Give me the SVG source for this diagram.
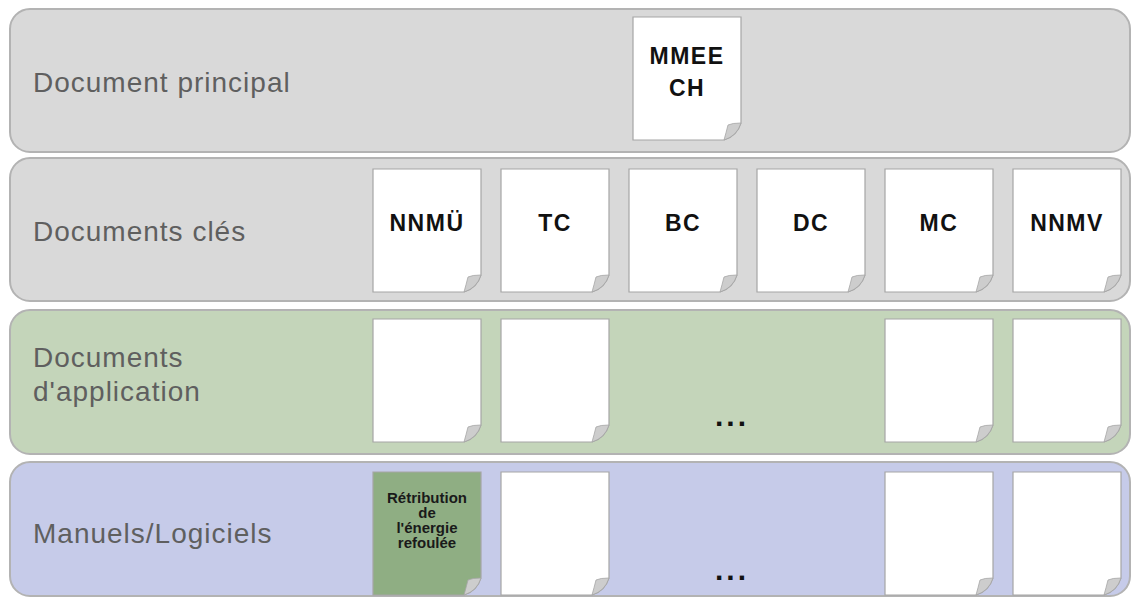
<svg xmlns="http://www.w3.org/2000/svg" width="1132" height="598" viewBox="0 0 1132 598">
<style>
.band{stroke:#b3b3b3;stroke-width:2}
.lbl{font-family:"Liberation Sans",Arial,sans-serif;font-size:28px;fill:#5f5f5f;letter-spacing:1px}
.pg{stroke:#a6a6a6;stroke-width:1.2}
.fold{fill:#cdcdcd;stroke:#a6a6a6;stroke-width:0.8}
.dl{font-family:"Liberation Sans",Arial,sans-serif;font-size:23px;font-weight:bold;fill:#111;text-anchor:middle;letter-spacing:1.5px}
.sm{font-family:"Liberation Sans",Arial,sans-serif;font-size:15px;font-weight:bold;fill:#1a1a1a;text-anchor:middle}
.dots{font-family:"Liberation Sans",Arial,sans-serif;font-size:30px;font-weight:bold;fill:#111;text-anchor:middle;letter-spacing:3px}
</style>
<defs>
<path id="page" d="M0 0 H108 V106 Q104 119 91 123 H0 Z"/>
<path id="fold" d="M108 106 Q99 106 95 108 Q93 116 91 123 Q104 119 108 106 Z"/>
</defs>
<rect width="1132" height="598" fill="#ffffff"/>
<g id="band1">
<rect class="band" x="10" y="9" width="1120" height="143" rx="20" fill="#d9d9d9"/>
<text class="lbl" x="33" y="92">Document principal</text>
</g>
<g id="band2">
<rect class="band" x="10" y="158" width="1120" height="143" rx="20" fill="#d9d9d9"/>
<text class="lbl" x="33" y="241">Documents clés</text>
</g>
<g id="band3">
<rect class="band" x="10" y="310" width="1120" height="144" rx="20" fill="#c4d5ba"/>
<text class="lbl" x="33" y="367">Documents</text>
<text class="lbl" x="33" y="401">d'application</text>
<text class="dots" x="732" y="426">...</text>
</g>
<g id="band4">
<rect class="band" x="10" y="462" width="1120" height="134" rx="20" fill="#c6cbe9"/>
<text class="lbl" x="33" y="543">Manuels/Logiciels</text>
<text class="dots" x="732" y="580">...</text>
</g>
<g id="doc-mmeech" transform="translate(633,17)">
<use href="#page" class="pg" fill="#fff"/><use href="#fold" class="fold"/>
<text class="dl" x="54" y="47">MMEE</text><text class="dl" x="54" y="79">CH</text>
</g>
<g id="doc-nnmu" transform="translate(373,169)"><use href="#page" class="pg" fill="#fff"/><use href="#fold" class="fold"/><text class="dl" x="54" y="62">NNMÜ</text></g>
<g id="doc-tc" transform="translate(501,169)"><use href="#page" class="pg" fill="#fff"/><use href="#fold" class="fold"/><text class="dl" x="54" y="62">TC</text></g>
<g id="doc-bc" transform="translate(629,169)"><use href="#page" class="pg" fill="#fff"/><use href="#fold" class="fold"/><text class="dl" x="54" y="62">BC</text></g>
<g id="doc-dc" transform="translate(757,169)"><use href="#page" class="pg" fill="#fff"/><use href="#fold" class="fold"/><text class="dl" x="54" y="62">DC</text></g>
<g id="doc-mc" transform="translate(885,169)"><use href="#page" class="pg" fill="#fff"/><use href="#fold" class="fold"/><text class="dl" x="54" y="62">MC</text></g>
<g id="doc-nnmv" transform="translate(1013,169)"><use href="#page" class="pg" fill="#fff"/><use href="#fold" class="fold"/><text class="dl" x="54" y="62">NNMV</text></g>
<g id="doc-app1" transform="translate(373,319)"><use href="#page" class="pg" fill="#fff"/><use href="#fold" class="fold"/></g>
<g id="doc-app2" transform="translate(501,319)"><use href="#page" class="pg" fill="#fff"/><use href="#fold" class="fold"/></g>
<g id="doc-app3" transform="translate(885,319)"><use href="#page" class="pg" fill="#fff"/><use href="#fold" class="fold"/></g>
<g id="doc-app4" transform="translate(1013,319)"><use href="#page" class="pg" fill="#fff"/><use href="#fold" class="fold"/></g>
<g id="doc-retribution" transform="translate(373,472)">
<use href="#page" class="pg" fill="#8fae83"/><use href="#fold" class="fold"/>
<text class="sm" x="54" y="31">Rétribution</text>
<text class="sm" x="54" y="46">de</text>
<text class="sm" x="54" y="61">l'énergie</text>
<text class="sm" x="54" y="76">refoulée</text>
</g>
<g id="doc-man2" transform="translate(501,472)"><use href="#page" class="pg" fill="#fff"/><use href="#fold" class="fold"/></g>
<g id="doc-man3" transform="translate(885,472)"><use href="#page" class="pg" fill="#fff"/><use href="#fold" class="fold"/></g>
<g id="doc-man4" transform="translate(1013,472)"><use href="#page" class="pg" fill="#fff"/><use href="#fold" class="fold"/></g>
<g id="connectors"/>
</svg>
